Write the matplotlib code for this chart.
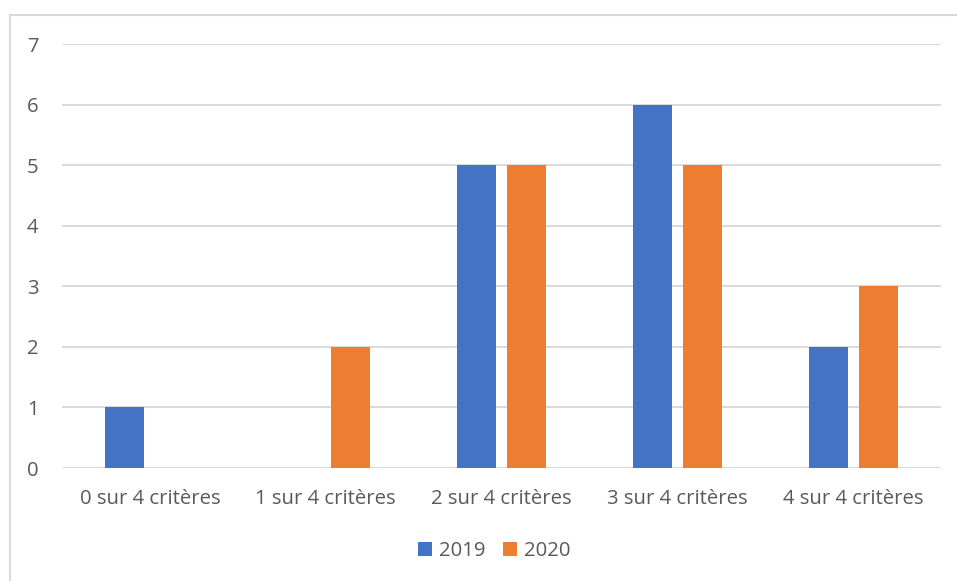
import matplotlib
matplotlib.use('Agg')
import matplotlib.pyplot as plt
from matplotlib.patches import Rectangle
import numpy as np

# data
categories = ['0 sur 4 critères', '1 sur 4 critères', '2 sur 4 critères',
              '3 sur 4 critères', '4 sur 4 critères']
values_2019 = [1, 0, 5, 6, 2]
values_2020 = [0, 2, 5, 5, 3]
series_names = ['2019', '2020']

BLUE = '#4472c4'
ORANGE = '#ed7d31'
TEXT = '#595959'
GRID = '#d9d9d9'

plt.rcParams['font.family'] = ['Open Sans', 'DejaVu Sans']

W, H = 957, 581
fig = plt.figure(figsize=(W / 100, H / 100), dpi=100)
ax = fig.add_axes([62 / W, (H - 468) / H, (941 - 62) / W, (468 - 44) / H])

x = np.arange(len(categories))
width = 0.222
offset = 0.142
ax.bar(x - offset, values_2019, width, color=BLUE, label=series_names[0], zorder=3)
ax.bar(x + offset, values_2020, width, color=ORANGE, label=series_names[1], zorder=3)

ax.set_xlim(-0.5, len(categories) - 0.5)
ax.set_ylim(0, 7)
ax.set_yticks(range(8))
ax.set_xticks(x)
ax.set_xticklabels(categories)
ax.tick_params(axis='both', length=0, labelsize=14.6, colors=TEXT)
ax.tick_params(axis='y', pad=17)
ax.tick_params(axis='x', pad=15)
ax.grid(axis='y', color=GRID, linewidth=1.4, zorder=0)
for s in ax.spines.values():
    s.set_visible(False)

leg = fig.legend(loc='center', bbox_to_anchor=(494 / W, (H - 551) / H), ncol=2,
                 frameon=False, fontsize=14.6, handlelength=0.7, handleheight=0.7,
                 handletextpad=0.35, columnspacing=0.85)
for t in leg.get_texts():
    t.set_color(TEXT)

# outer chart border
fig.patches.append(Rectangle((10 / W, -0.1), 1.2, (H - 15) / H + 0.1,
                             transform=fig.transFigure, fill=False,
                             edgecolor=GRID, linewidth=1.5))

fig.savefig('out.png', dpi=100)
